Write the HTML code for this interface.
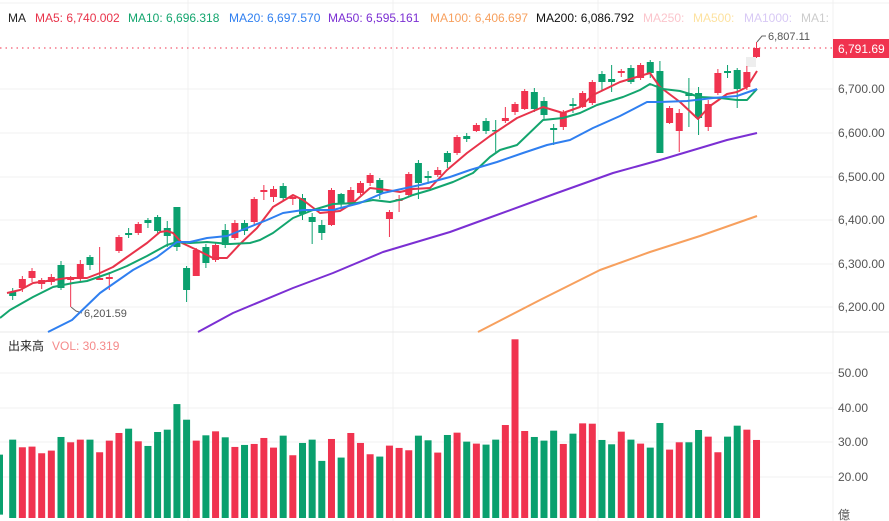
<!DOCTYPE html>
<html><head><meta charset="utf-8"><style>
html,body{margin:0;padding:0;background:#fff;width:889px;height:521px;overflow:hidden}
svg{display:block;font-family:"Liberation Sans","Noto Sans CJK JP",sans-serif}
</style></head><body>
<svg id="c" width="889" height="521" viewBox="0 0 889 521" xmlns="http://www.w3.org/2000/svg">
<g stroke="#f0f0f0" stroke-width="1">
<line x1="0" y1="3" x2="889" y2="3"/>
<line x1="0" y1="89" x2="833" y2="89"/><line x1="0" y1="133" x2="833" y2="133"/>
<line x1="0" y1="177" x2="833" y2="177"/><line x1="0" y1="220" x2="833" y2="220"/>
<line x1="0" y1="264" x2="833" y2="264"/><line x1="0" y1="307" x2="833" y2="307"/>
<line x1="0" y1="373" x2="833" y2="373"/><line x1="0" y1="408" x2="833" y2="408"/>
<line x1="0" y1="442" x2="833" y2="442"/><line x1="0" y1="477" x2="833" y2="477"/>
<line x1="188" y1="0" x2="188" y2="521"/><line x1="393" y1="0" x2="393" y2="521"/>
<line x1="598" y1="0" x2="598" y2="521"/><line x1="833" y1="0" x2="833" y2="521"/>
<line x1="0" y1="332" x2="889" y2="332" stroke="#e8e8e8"/>
</g>
<g font-size="12">
<text x="8" y="22" fill="#222">MA</text>
<text x="35" y="22" fill="#e8334a">MA5: 6,740.002</text>
<text x="128" y="22" fill="#13a56e">MA10: 6,696.318</text>
<text x="229" y="22" fill="#2f7ff0">MA20: 6,697.570</text>
<text x="328" y="22" fill="#7b2fd3">MA50: 6,595.161</text>
<text x="430" y="22" fill="#f7a05e">MA100: 6,406.697</text>
<text x="536" y="22" fill="#111">MA200: 6,086.792</text>
<text x="643" y="22" fill="#fbc5cc">MA250:</text>
<text x="693" y="22" fill="#fde2a0">MA500:</text>
<text x="744" y="22" fill="#d8c9f5">MA1000:</text>
<text x="801" y="22" fill="#ccc">MA1:</text>
</g>
<line x1="0" y1="48" x2="833" y2="48" stroke="#f0334f" stroke-dasharray="1.5,4" stroke-width="1"/>
<rect x="833" y="39" width="56" height="19" fill="#f0334f"/>
<text x="838" y="53" font-size="12" fill="#fff">6,791.69</text>
<g font-size="12" fill="#555">
<text x="838" y="93">6,700.00</text><text x="838" y="137">6,600.00</text>
<text x="838" y="181">6,500.00</text><text x="838" y="224">6,400.00</text>
<text x="838" y="268">6,300.00</text><text x="838" y="311">6,200.00</text>
<text x="838" y="377">50.00</text><text x="838" y="412">40.00</text>
<text x="838" y="446">30.00</text><text x="838" y="481">20.00</text>
<text x="838" y="519">億</text>
</g>
<text x="8" y="350" font-size="12" fill="#222">出来高</text>
<text x="52" y="350" font-size="12" fill="#f58a8a">VOL: 30.319</text>
<polyline points="757,42 762,36 766,36" fill="none" stroke="#666" stroke-width="1"/>
<text x="768" y="40" font-size="11" fill="#555">6,807.11</text>
<polyline points="71,307 76,311 82,313" fill="none" stroke="#666" stroke-width="1"/>
<text x="84" y="317" font-size="11" fill="#555">6,201.59</text>
<rect x="746" y="57" width="10" height="10" fill="#eee"/>
<g id="cand"></g><g id="vol"></g><g id="ma" fill="none" stroke-width="2" stroke-linejoin="round"></g>
</svg>
<script>
var R="#f0334f",G="#0aa06e",NS="http://www.w3.org/2000/svg";
// [color, top, bottom, high, low]
var C=[
[G,292,296,288,300],[R,279,288,276,292],[R,271,278,268,282],[R,280,284,278,289],[R,277,282,274,285],
[G,265,288,261,290],[R,278,280,276,307],[R,264,279,260,281],[G,257,265,255,270],[R,278,280,247,280],
[R,277,279,272,290],[R,237,251,235,253],[G,233,235,228,238],[R,224,233,222,235],[G,220,223,218,228],
[G,217,231,215,233],[G,228,236,221,247],[G,207,247,207,251],[G,268,290,266,302],[R,250,276,248,276],
[G,247,263,244,268],[R,245,260,242,262],[G,230,245,224,248],[R,223,238,220,240],[G,223,231,220,235],
[R,199,222,197,225],[R,190,192,185,200],[R,189,197,186,202],[G,186,198,183,200],[R,197,199,196,205],
[G,198,214,194,220],[G,217,222,213,244],[G,225,233,220,240],[R,190,225,188,226],[G,194,203,193,208],
[R,190,203,187,206],[R,183,193,181,195],[R,175,183,173,186],[G,180,193,178,199],[R,212,219,210,237],
[R,199,201,195,212],[R,174,195,172,197],[G,163,183,160,199],[G,176,178,171,184],[R,170,175,167,177],
[G,153,162,151,168],[R,137,153,135,155],[G,136,139,133,142],[R,125,131,123,132],[G,121,131,118,134],
[G,130,131,120,152],[R,118,121,107,123],[R,104,112,102,115],[R,91,109,89,110],[G,92,109,88,112],
[G,101,115,97,120],[G,128,130,124,145],[R,113,127,110,130],[G,104,106,98,113],[R,93,107,91,108],
[R,82,103,80,105],[G,74,82,71,90],[G,79,82,65,92],[R,71,73,69,77],[G,68,82,65,84],
[R,65,78,63,80],[G,62,73,60,78],[G,71,153,61,153],[R,108,123,106,124],[R,113,131,109,152],
[G,93,96,78,127],[G,93,118,87,135],[R,104,127,100,131],[R,73,93,69,95],[G,71,73,65,78],
[G,70,89,68,108],[R,72,87,66,90],[R,48,57,42,58]];
var V=[[G,330],[R,353],[R,351],[R,371],[R,363],[G,322],[R,338],[R,330],[G,330],[R,368],[R,333],[R,310],[G,297],[R,335],[G,349],[G,307],[G,300],[G,223],[G,270],[R,333],[G,317],[R,305],[G,323],[R,352],[G,346],[R,343],[R,325],[R,354],[G,318],[R,377],[G,340],[G,330],[G,394],[R,328],[G,384],[R,310],[R,340],[R,374],[G,381],[R,348],[R,355],[R,362],[G,318],[G,332],[R,369],[G,316],[R,309],[G,336],[R,342],[G,345],[G,330],[R,286],[R,28],[R,304],[G,322],[G,333],[G,303],[R,343],[G,312],[R,281],[R,282],[G,331],[G,344],[R,306],[G,330],[R,342],[G,354],[G,280],[R,360],[R,338],[G,338],[G,301],[R,321],[R,368],[G,321],[G,288],[R,300],[R,331]];
function el(t,a,p){var e=document.createElementNS(NS,t);for(var k in a)e.setAttribute(k,a[k]);p.appendChild(e);return e;}
var cg=document.getElementById("cand"),vg=document.getElementById("vol"),mg=document.getElementById("ma");
for(var i=0;i<C.length;i++){var x=12.7+9.66*i,c=C[i];
el("line",{x1:x,x2:x,y1:c[3],y2:c[4],stroke:c[0],"stroke-width":1},cg);
el("rect",{x:x-3.5,y:c[1],width:7,height:Math.max(1.5,c[2]-c[1]),fill:c[0]},cg);}
for(var i=0;i<V.length;i++){var x=12.7+9.66*i,y=330+V[i][1]/3.01;
el("rect",{x:x-3.5,y:y,width:7,height:518-y,fill:V[i][0]},vg);}
el("rect",{x:0,y:355+330/3.01-10,width:3,height:60,fill:G},vg);
var M=[
["#e8334a","7,293 20,290 33,283 47,281 67,278 87,278 100,273 113,267 127,257 147,243 160,232 167,231 173,233 182,243 197,250 213,258 227,258 240,244 257,228 273,207 293,195 303,200 320,213 340,211 353,203 370,188 387,190 400,192 413,189 430,188 447,170 467,153 490,136 517,118 543,107 563,113 580,107 593,95 620,82 650,73 660,87 680,102 698,119 710,106 727,94 737,92 747,87 757,71"],
["#13a56e","0,318 10,310 33,297 53,287 73,283 87,281 110,273 127,266 147,256 167,245 177,242 190,243 207,242 230,244 250,243 260,240 273,233 293,218 313,210 333,204 357,203 373,200 390,202 403,199 413,195 430,190 453,182 473,173 490,157 500,150 517,145 543,120 563,118 580,113 597,105 623,97 640,90 650,84 663,89 680,91 700,97 720,98 737,100 747,100 757,89"],
["#2f7ff0","48,332 72,320 100,293 133,270 157,257 177,242 190,242 207,238 227,236 247,228 267,220 283,213 303,210 333,210 360,203 383,193 420,185 450,177 470,170 497,162 523,153 547,145 570,140 593,128 620,116 647,102 660,102 687,101 713,98 737,96 757,89"],
["#7b2fd3","198,332 233,313 293,288 333,273 383,252 450,232 483,220 557,193 613,173 660,160 727,140 757,133"],
["#f7a05e","478,332 540,300 600,270 650,252 700,236 757,216"]];
M.forEach(function(m){el("polyline",{points:m[1],stroke:m[0]},mg);});
</script>
</body></html>
